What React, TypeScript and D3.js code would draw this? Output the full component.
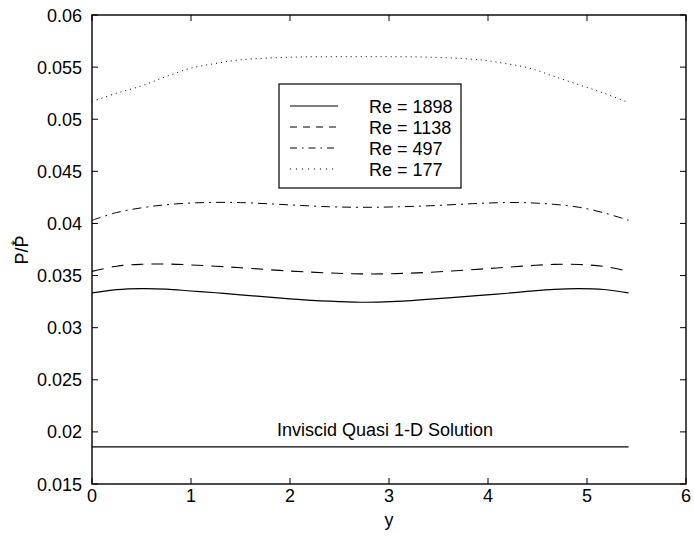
import React from "react";
import * as d3 from "d3";

const xs = [0, 0.25, 0.5, 0.75, 1.0, 1.25, 1.5, 2.0, 2.4, 2.71, 3.02, 3.42, 3.92, 4.17, 4.42, 4.67, 4.92, 5.17, 5.42];
const re1898 = [0.03333, 0.03365, 0.03375, 0.0337, 0.03352, 0.03335, 0.03315, 0.03277, 0.03254, 0.03244, 0.03249, 0.03274, 0.0331, 0.03328, 0.0335, 0.03368, 0.03375, 0.03366, 0.03333];
const re1138 = [0.0354, 0.0359, 0.03608, 0.03611, 0.03602, 0.0359, 0.03575, 0.03543, 0.03525, 0.03516, 0.03518, 0.03532, 0.03562, 0.03578, 0.03595, 0.03607, 0.03606, 0.03588, 0.0354];
const re497 = [0.0403, 0.04105, 0.0415, 0.0418, 0.04196, 0.04202, 0.042, 0.04178, 0.0416, 0.04155, 0.04158, 0.0417, 0.04193, 0.042, 0.04198, 0.04183, 0.04155, 0.04102, 0.0403];
const re177 = [0.0517, 0.0525, 0.0532, 0.0541, 0.0549, 0.05535, 0.0557, 0.05595, 0.056, 0.056, 0.056, 0.05595, 0.0557, 0.05535, 0.0549, 0.0541, 0.0533, 0.0525, 0.0516];
const inviscidX = [0, 5.42];
const inviscidY = [0.01856, 0.01856];

const xTicks = [0, 1, 2, 3, 4, 5, 6];
const yTicks = [0.015, 0.02, 0.025, 0.03, 0.035, 0.04, 0.045, 0.05, 0.055, 0.06];
const seriesLabels = ["Re = 1898", "Re = 1138", "Re = 497", "Re = 177"];

const FONT = "'Liberation Sans', Arial, Helvetica, sans-serif";

export default function App() {
  const W = 694, H = 540;
  const L = 92, R = 686, T = 15, B = 484;
  const x = d3.scaleLinear().domain([0, 6]).range([L, R]);
  const y = d3.scaleLinear().domain([0.015, 0.06]).range([B, T]);
  const line = d3.line<[number, number]>().x(d => x(d[0])).y(d => y(d[1])).curve(d3.curveCatmullRom);
  const mk = (vals: number[]) => line(xs.map((v, i) => [v, vals[i]] as [number, number])) || "";

  const series = [
    { vals: re1898, dash: "", legendDash: "", w: 1.2 },
    { vals: re1138, dash: "12,8", legendDash: "7,6", w: 1.1 },
    { vals: re497, dash: "9,5,2,5", legendDash: "7,5,1.5,5", w: 1.0 },
    { vals: re177, dash: "1,4", legendDash: "1,5", w: 1.0 },
  ];

  const tl = 6;
  return (
    <svg width={W} height={H} style={{ display: "block", position: "absolute", left: 0, top: 0 }} fontFamily={FONT}>
      <rect x={0} y={0} width={W} height={H} fill="#fff" />
      {series.map((s, i) => (
        <path key={i} d={mk(s.vals)} fill="none" stroke="#000" strokeWidth={s.w} strokeDasharray={s.dash || undefined} />
      ))}
      <path d={d3.line()(inviscidX.map((v, i) => [x(v), y(inviscidY[i])] as [number, number])) || ""} stroke="#000" strokeWidth={1.1} fill="none" />
      <text x={385} y={436} fontSize={18} textAnchor="middle">Inviscid Quasi 1-D Solution</text>

      {/* frame */}
      <rect x={L} y={T} width={R - L} height={B - T} fill="none" stroke="#000" strokeWidth={1.4} />
      {xTicks.map(t => (
        <g key={"x" + t}>
          <line x1={x(t)} x2={x(t)} y1={B} y2={B - tl} stroke="#000" strokeWidth={1} />
          <line x1={x(t)} x2={x(t)} y1={T} y2={T + tl} stroke="#000" strokeWidth={1} />
          <text x={x(t)} y={B + 18} fontSize={18} textAnchor="middle">{t}</text>
        </g>
      ))}
      {yTicks.map(t => (
        <g key={"y" + t}>
          <line x1={L} x2={L + tl} y1={y(t)} y2={y(t)} stroke="#000" strokeWidth={1} />
          <line x1={R} x2={R - tl} y1={y(t)} y2={y(t)} stroke="#000" strokeWidth={1} />
          <text x={82} y={y(t) + 6.5} fontSize={18} textAnchor="end">{d3.format("")(+t.toFixed(3))}</text>
        </g>
      ))}
      <text x={(L + R) / 2} y={526} fontSize={18} textAnchor="middle">y</text>
      <g transform="translate(19,250) rotate(-90)">
        <text x={0} y={9} fontSize={18} textAnchor="middle">P/P</text>
        <text x={7} y={2} fontSize={14} textAnchor="middle">*</text>
      </g>

      {/* legend */}
      <rect x={279} y={84} width={182} height={104} fill="#fff" stroke="#000" strokeWidth={1.2} />
      {series.map((s, i) => {
        const cy = 106 + i * 21;
        return (
          <g key={"l" + i}>
            <line x1={290} x2={338} y1={cy} y2={cy} stroke="#000" strokeWidth={s.w} strokeDasharray={s.legendDash || undefined} />
            <text x={369} y={cy + 6.5} fontSize={18}>{seriesLabels[i]}</text>
          </g>
        );
      })}
    </svg>
  );
}
